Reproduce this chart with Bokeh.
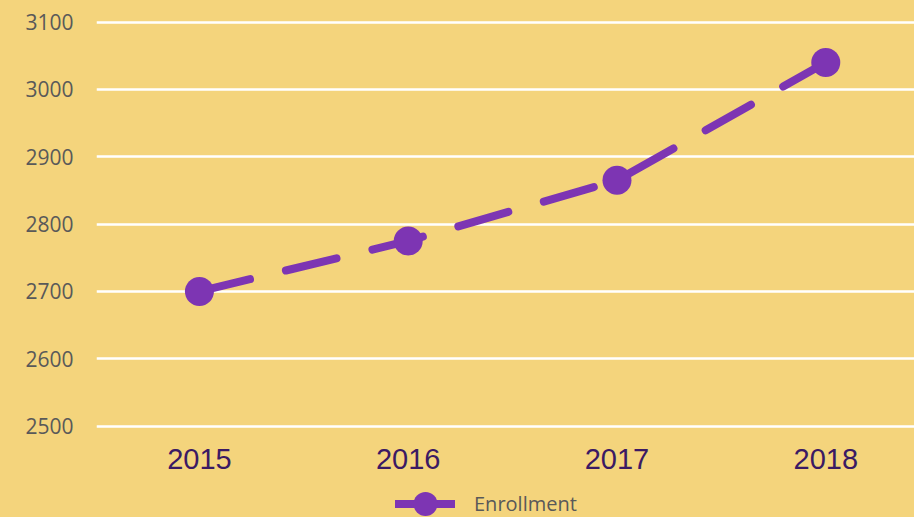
from bokeh.plotting import figure
from bokeh.layouts import column
from bokeh.models import ColumnDataSource, Range1d, FixedTicker, Legend, LegendItem
from bokeh.embed import file_html
from bokeh.resources import INLINE

# ---- data ----
years = [2015, 2016, 2017, 2018]
enrollment = [2700, 2775, 2865, 3040]
y_ticks = [2500, 2600, 2700, 2800, 2900, 3000, 3100]
series_name = "Enrollment"

BG = "#F4D47C"
PURPLE = "#7D35B3"

src = ColumnDataSource(data=dict(year=years, value=enrollment))

p = figure(width=914, height=487, output_backend="svg", toolbar_location=None,
           x_range=Range1d(2014.507, 2018.425), y_range=Range1d(2477.0, 3132.2),
           min_border_left=96, min_border_right=0, min_border_top=0, min_border_bottom=46)

p.background_fill_color = None
p.border_fill_color = None
p.outline_line_color = None

p.line(x="year", y="value", source=src, line_color=PURPLE, line_width=8,
       line_dash="52 37", line_cap="round", line_join="round")
p.scatter(x="year", y="value", source=src, size=29, fill_color=PURPLE,
          line_color=PURPLE, line_width=0)

# axes
p.xaxis.ticker = FixedTicker(ticks=years)
p.xaxis.axis_line_color = None
p.xaxis.major_tick_line_color = None
p.xaxis.minor_tick_line_color = None
p.xaxis.major_tick_out = 0
p.xaxis.major_label_standoff = 7
p.xaxis.major_label_text_font = "Liberation Sans"
p.xaxis.major_label_text_font_size = "29px"
p.xaxis.major_label_text_color = "#3B1A63"

p.yaxis.ticker = FixedTicker(ticks=y_ticks)
p.yaxis.axis_line_color = None
p.yaxis.major_tick_line_color = None
p.yaxis.minor_tick_line_color = None
p.yaxis.major_tick_out = 0
p.yaxis.major_label_standoff = 23
p.yaxis.major_label_text_font = "Open Sans"
p.yaxis.major_label_text_font_size = "21px"
p.yaxis.major_label_text_color = "#595959"

p.xgrid.grid_line_color = None
p.ygrid.grid_line_color = "white"
p.ygrid.grid_line_width = 2.5

# ---- legend strip (same series, drawn outside its visible range) ----
lg = figure(width=914, height=30, output_backend="svg", toolbar_location=None,
            x_range=Range1d(0, 1), y_range=Range1d(0, 1),
            min_border_left=0, min_border_right=0, min_border_top=0, min_border_bottom=0)
lg.axis.visible = False
lg.grid.visible = False
lg.background_fill_color = None
lg.border_fill_color = None
lg.outline_line_color = None

leg_line = lg.line(x="year", y="value", source=src, line_color=PURPLE, line_width=8,
                   line_cap="round")
leg_dot = lg.scatter(x="year", y="value", source=src, size=26, fill_color=PURPLE,
                     line_color=PURPLE, line_width=0)

legend = Legend(items=[LegendItem(label=series_name, renderers=[leg_line, leg_dot])],
                location=(299, -19), orientation="horizontal",
                glyph_width=60, glyph_height=65, label_standoff=19,
                padding=0, margin=0, spacing=0,
                background_fill_alpha=0, border_line_color=None,
                label_text_font="Open Sans", label_text_font_size="20px",
                label_text_color="#595959")
lg.add_layout(legend)

layout = column(p, lg, spacing=0, styles={"background-color": BG})
open("out.html", "w").write(file_html(layout, INLINE))
